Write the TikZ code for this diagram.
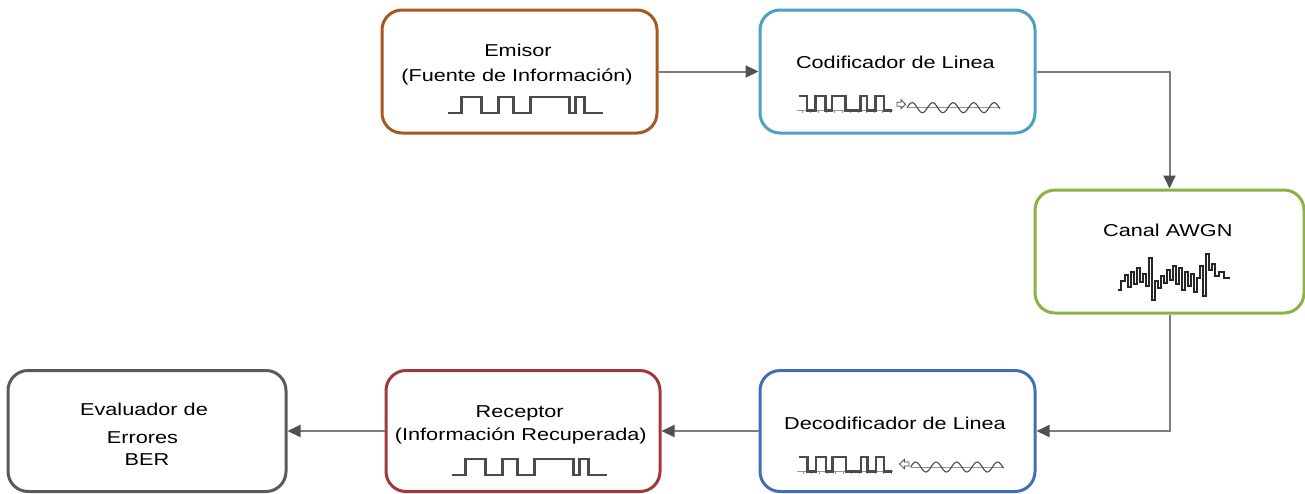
\documentclass[tikz,border=0pt]{standalone}
\usepackage{fontspec}
\newfontfamily\labfont[FakeStretch=1.26]{Liberation Sans}
\usetikzlibrary{arrows.meta}
\definecolor{cEmi}{RGB}{166,88,30}
\definecolor{cCod}{RGB}{75,160,195}
\definecolor{cCan}{RGB}{140,178,68}
\definecolor{cDec}{RGB}{66,110,180}
\definecolor{cRec}{RGB}{160,57,58}
\definecolor{cEva}{RGB}{90,90,90}
\definecolor{cLine}{RGB}{125,125,125}
\definecolor{cHead}{RGB}{80,80,80}
\definecolor{cTxt}{RGB}{0,0,0}
\definecolor{cWave}{RGB}{75,75,75}
\definecolor{cAxis}{RGB}{150,150,150}
\begin{document}
\begin{tikzpicture}[x=1pt,y=-1pt,
  box/.style={draw=#1, line width=3pt, rounded corners=20pt, fill=white,
    minimum width=275pt, minimum height=123pt, inner sep=0pt},
  lab/.style={font=\labfont\fontsize{17.2}{20}\selectfont, text=cTxt, anchor=base, inner sep=0pt},
  conn/.style={draw=cLine, line width=2pt, -{Triangle[length=13pt,width=12pt,color=cHead]}},
  sqd/.style={draw=cWave, line width=2.4pt, line join=miter},
  axisl/.style={draw=cAxis, line width=0.8pt},
  sinel/.style={draw=cWave, line width=1.1pt},
  sqwave/.pic={
    \draw[sqd] (0,0) -- (14,0) -- (14,-16) -- (34,-16) -- (34,0) -- (51,0) -- (51,-16)
      -- (66,-16) -- (66,0) -- (83,0) -- (83,-16) -- (122,-16) -- (122,0) -- (128,0)
      -- (128,-16) -- (137,-16) -- (137,0) -- (155,0);
  },
  codewave/.pic={
    \draw[axisl] (-2,0) -- (94,0);
    \foreach \t in {4,12,...,92} \draw[axisl] (\t,0) -- (\t,2.5);
    \draw[sqd] (0,-14.5) -- (8.3,-14.5) -- (8.3,0) -- (16.7,0) -- (16.7,-14.5) -- (26.7,-14.5)
      -- (26.7,0) -- (33.3,0) -- (33.3,-14.5) -- (46.7,-14.5) -- (46.7,0) -- (61.7,0)
      -- (61.7,-14.5) -- (68.3,-14.5) -- (68.3,0) -- (76.7,0) -- (76.7,-14.5) -- (85,-14.5)
      -- (85,0) -- (93.3,0);
  },
  sinewave/.pic={
    \draw[axisl] (0,0) -- (93,0);
    \draw[sinel] plot[domain=0:93,samples=90,smooth] (\x,{-5*sin(\x*17.56)});
  }
]
\useasboundingbox (0,0) rectangle (1305,493);

% boxes
\node[box=cEmi] (emi) at (519.5,71.5) {};
\node[box=cCod] (cod) at (897.5,71.5) {};
\node[box=cCan, minimum width=269pt] (can) at (1169.5,251.5) {};
\node[box=cDec, minimum height=121pt] (dec) at (897.5,431) {};
\node[box=cRec, minimum width=274pt, minimum height=121pt] (rec) at (523,431) {};
\node[box=cEva, minimum width=278pt, minimum height=121pt] (eva) at (147,431) {};

% labels
\node[lab] (emiA) at (518,56.7) {Emisor};
\node[lab] (emiB) at (517,81) {(Fuente de Información)};
\node[lab] (codA) at (895.4,68.3) {Codificador de Linea};
\node[lab] (canA) at (1167.8,236.7) {Canal AWGN};
\node[lab] (decA) at (895,429.3) {Decodificador de Linea};
\node[lab] (recA) at (519.7,417.3) {Receptor};
\node[lab] (recB) at (520.8,440) {(Información Recuperada)};
\node[lab] (evaA) at (144,415) {Evaluador de};
\node[lab] (evaB) at (142.5,443) {Errores};
\node[lab] (evaC) at (147,465.7) {BER};

% waveforms
\pic at (447.5,113) {sqwave};
\pic at (451.5,475) {sqwave};
\pic at (798.7,110.5) {codewave};
\pic at (799,471.5) {codewave};
\pic at (907,107.7) {sinewave};
\pic at (910.5,467) {sinewave};
\draw[draw=cWave, line width=0.8pt, line join=miter]
  (897,102.3) -- (901,102.3) -- (901,99.7) -- (905.5,104.3) -- (901,108.7) -- (901,106.3) -- (897,106.3) -- cycle;
\draw[draw=cWave, line width=0.8pt, line join=miter]
  (909,462) -- (904.5,462) -- (904.5,459.3) -- (899.5,464) -- (904.5,468.7) -- (904.5,466) -- (909,466) -- cycle;
\draw[black!85, line width=2.6pt, line join=miter] plot coordinates {
  (1118,290) (1121,290) (1121,281) (1125,281) (1125,275) (1128,275) (1128,287) (1131,287)
  (1131,272) (1134,272) (1134,284) (1137,284) (1137,268) (1140,268) (1140,282) (1143,282)
  (1143,274) (1146,274) (1146,286) (1149,286) (1149,258) (1152,258) (1152,300) (1155,300)
  (1155,281) (1158,281) (1158,288) (1161,288) (1161,276) (1164,276) (1164,283) (1167,283)
  (1167,270) (1170,270) (1170,280) (1173,280) (1173,266) (1176,266) (1176,284) (1179,284)
  (1179,268) (1182,268) (1182,290) (1185,290) (1185,272) (1188,272) (1188,286) (1191,286)
  (1191,274) (1194,274) (1194,292) (1197,292) (1197,278) (1200,278) (1200,266) (1203,266)
  (1203,296) (1206,296) (1206,254) (1209,254) (1209,270) (1212,270) (1212,264) (1215,264)
  (1215,276) (1219,276) (1219,272) (1224,272) (1224,278) (1230,278)};

% connectors
\draw[conn] (emi.east) -- (cod.west);
\draw[conn] (cod.east) -| (can.north);
\draw[conn] (can.south) |- (dec.east);
\draw[conn] (dec.west) -- (rec.east);
\draw[conn] (rec.west) -- (eva.east);
\end{tikzpicture}
\end{document}
